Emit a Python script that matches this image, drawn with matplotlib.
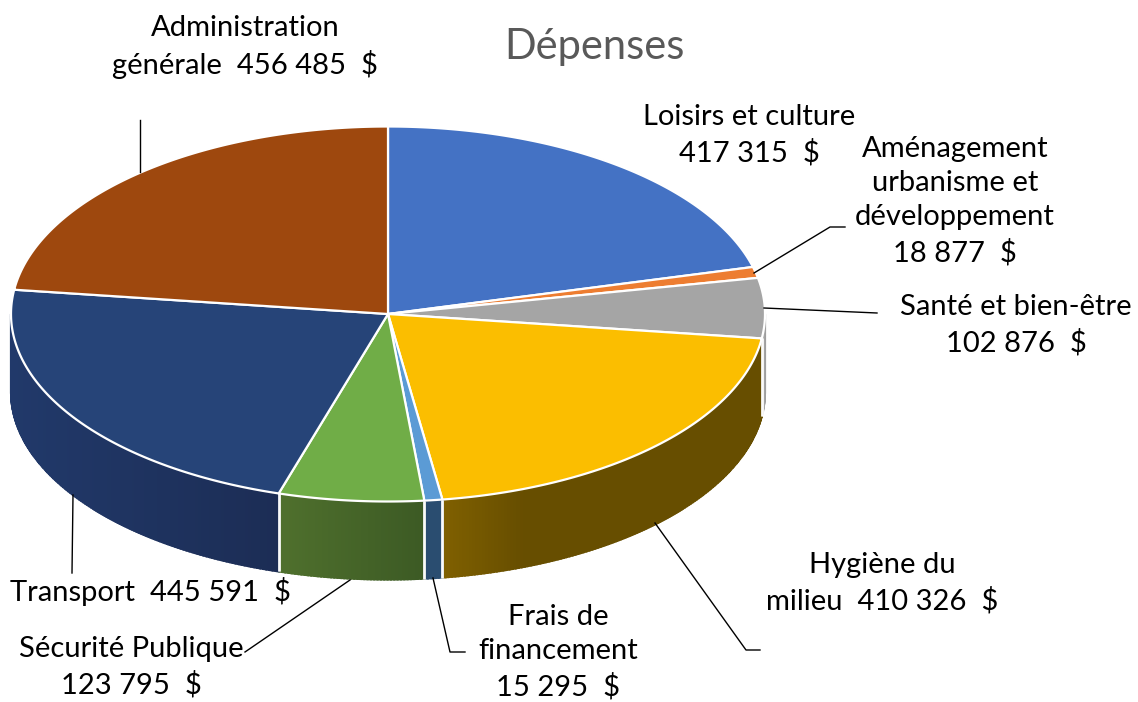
import numpy as np
import matplotlib
matplotlib.use('Agg')
import matplotlib.pyplot as plt
from matplotlib.patches import Polygon

plt.rcParams['font.family'] = ['Lato', 'DejaVu Sans']

# valeurs du graphique
categories = ['Loisirs et culture', 'Aménagement', 'Santé et bien-être', 'Hygiène du milieu',
              'Frais de financement', 'Sécurité Publique', 'Transport', 'Administration générale']
values = [417315, 18877, 102876, 410326, 15295, 123795, 445591, 456485]
top_colors = ['#4472C4', '#ED7D31', '#A5A5A5', '#FBBE00', '#5B9BD5', '#70AD47', '#264478', '#9E480E']
side_dark = ['#264478', '#843C0C', '#9A9A9A', '#674E00', '#2A4D70', '#3C5A24', '#1C2D55', '#5E2B08']
side_light = ['#264478', '#843C0C', '#B0B0B0', '#7F6000', '#2A4D70', '#4F702D', '#21396A', '#5E2B08']
side_fade = [1, 1, 1, 0.25, 1, 1, 1, 1]

labels = [
    ('Administration\ngénérale  456 485  $', 245, 46),
    ('Loisirs et culture\n417 315  $', 749, 134),
    ('Aménagement\nurbanisme et\ndéveloppement\n18 877  $', 955, 200),
    ('Santé et bien-être\n102 876  $', 1016, 324),
    ('Hygiène du\nmilieu  410 326  $', 882, 582),
    ('Frais de\nfinancement\n15 295  $', 558, 651),
    ('Sécurité Publique\n123 795  $', 131, 666),
    ('Transport  445 591  $', 151, 590),
]

leaders = [
    ([140, 140], [172, 120]),
    ([754, 830, 845], [273, 227, 227]),
    ([764, 877], [308, 313]),
    ([655, 746, 760], [523, 650, 650]),
    ([433, 450, 465], [578, 652, 652]),
    ([350, 245], [580, 652]),
    ([73, 72], [495, 573]),
]

cx, cy = 388, 314
rx, ry = 377, 187.5
depth = 78


def rim(theta):
    # theta en degres, sens horaire depuis le haut
    t = np.radians(theta)
    return cx + rx * np.sin(t), cy - ry * np.cos(t)


fig = plt.figure(figsize=(11.38, 7.02), dpi=100)
ax = fig.add_axes([0, 0, 1, 1])
ax.set_xlim(0, 1138)
ax.set_ylim(702, 0)
ax.axis('off')

edges = np.concatenate([[0], np.cumsum(values)]) / sum(values) * 360

# flanc avant, du bord gauche vers le bord droit pour couvrir les joints
for i in range(len(values)):
    a0, a1 = max(edges[i], 90), min(edges[i + 1], 270)
    if a1 <= a0:
        continue
    steps = np.linspace(a0, a1, max(int((a1 - a0) * 2), 2) + 1)
    c_dark = np.array(matplotlib.colors.to_rgb(side_dark[i]))
    c_light = np.array(matplotlib.colors.to_rgb(side_light[i]))
    xa, xb = rim(a0)[0], rim(a1)[0]
    for s0, s1 in zip(steps[:-1], steps[1:]):
        x0, y0 = rim(s0)
        x1, y1 = rim(s1)
        f = ((x0 + x1) / 2 - min(xa, xb)) / max(abs(xa - xb), 1)
        f = min(f / side_fade[i], 1)
        col = c_light + (c_dark - c_light) * f
        ax.add_patch(Polygon([(x0, y0), (x1, y1), (x1, y1 + depth), (x0, y0 + depth)],
                             facecolor=col, edgecolor=col, linewidth=1.5, zorder=2))
    # separations blanches entre les parts
    for a in (a0, a1):
        if 90 < a < 270:
            x, y = rim(a)
            ax.plot([x, x], [y, y + depth], color='white', lw=1.8, zorder=3,
                    solid_capstyle='butt', alpha=0.85)

# dessus du camembert
for i in range(len(values)):
    th = np.linspace(edges[i], edges[i + 1], max(int(edges[i + 1] - edges[i]) * 2, 4))
    xs, ys = rim(th)
    pts = [(cx, cy)] + list(zip(xs, ys))
    ax.add_patch(Polygon(pts, closed=True, facecolor=top_colors[i], edgecolor='white',
                         linewidth=1.6, joinstyle='round', zorder=4))

# traits de rappel
for xs, ys in leaders:
    ax.plot(xs, ys, color='black', lw=1.0, zorder=5)

for txt, x, y in labels:
    ax.text(x, y + 1, txt, ha='center', va='center', fontsize=21, color='black',
            linespacing=1.39, zorder=6)

ax.text(594, 47, 'Dépenses', ha='center', va='center', fontsize=30, color='#595959')

fig.savefig('out.png', dpi=100)
